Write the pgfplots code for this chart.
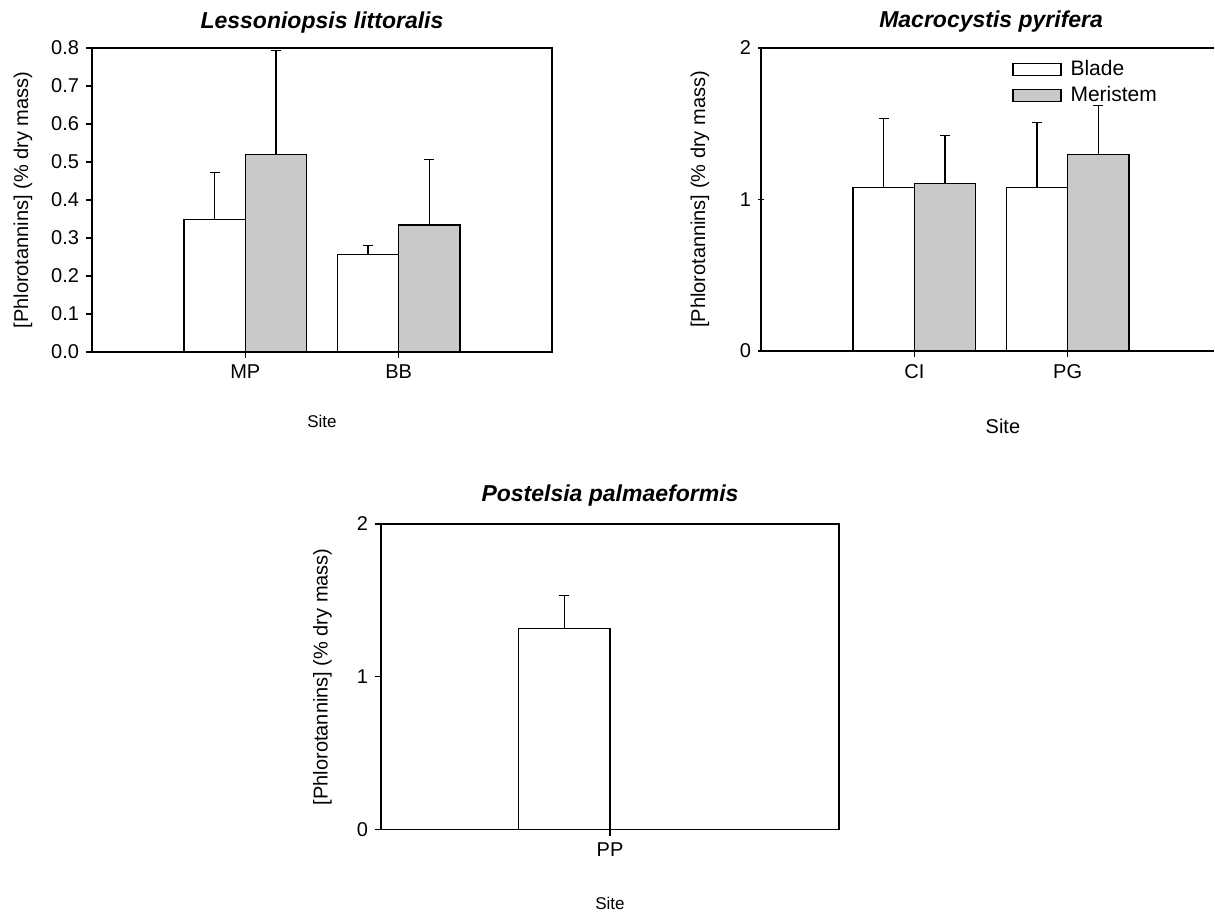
\documentclass[border=0pt]{standalone}
\usepackage{fontspec}
\setmainfont{Liberation Sans}
\usepackage{pgfplots}
\pgfplotsset{compat=1.18}
\definecolor{merfill}{gray}{0.79}
\pgfplotsset{
  panel/.style={
    scale only axis, xmin=0, xmax=3, ymin=0,
    tick align=outside, major tick length=3pt,
    xtick pos=left, ytick pos=left,
    axis line style={line width=0.6pt},
    tick style={line width=0.6pt, black},
    tick label style={font=\fontsize{10}{12}\selectfont},
    /pgf/number format/assume math mode=true,
    xlabel style={font=\fontsize{8.5}{10}\selectfont, anchor=center},
    ylabel style={font=\fontsize{10}{12}\selectfont, anchor=center},
    title style={font=\fontsize{11.5}{13}\selectfont\bfseries\itshape, anchor=base},
    xlabel={Site},
    ylabel={[Phlorotannins] (\% dry mass)},
    minor tick num=0,
  },
  errs/.style={forget plot, draw=none, mark=none,
    error bars/.cd, y dir=plus, y explicit,
    error bar style={draw=black, line width=0.6pt, solid},
    error mark=-,
    error mark options={rotate=90, draw=black, line width=0.6pt, mark size=2.5pt}},
  bladebar/.style={ybar, draw=black, fill=white, line width=0.6pt, bar width=0.4, bar shift=-0.2},
  merbar/.style={ybar, draw=black, fill=merfill, line width=0.6pt, bar width=0.4, bar shift=0.2},
}
\begin{document}
\begin{tikzpicture}
\path (0,0) rectangle (607.5pt,458pt);
% Panel A
\begin{axis}[panel,
  at={(46pt,282pt)}, anchor=south west, width=230pt, height=152pt,
  ymax=0.8, ytick={0,0.1,0.2,0.3,0.4,0.5,0.6,0.7,0.8},
  yticklabel style={/pgf/number format/.cd, fixed, fixed zerofill, precision=1},
  xtick={1,2}, xticklabels={MP,BB},
  title={Lessoniopsis littoralis},
  title style={at={(axis description cs:0.5,1)}, yshift=3.75pt},
  ylabel style={at={(axis description cs:-0.15,0.5)}},
  xlabel style={at={(axis description cs:0.5,-0.228)}},
  clip=false,
]
\addplot[bladebar] coordinates {(1,0.349) (2,0.257)};
\addplot[merbar] coordinates {(1,0.520) (2,0.334)};
\addplot[errs] coordinates {(0.8,0.349) +- (0,0.124) (1.8,0.257) +- (0,0.023)};
\addplot[errs] coordinates {(1.2,0.520) +- (0,0.274) (2.2,0.334) +- (0,0.172)};
\end{axis}
% Panel B
\begin{axis}[panel,
  at={(380.5pt,282.5pt)}, anchor=south west, width=226.5pt, height=151.5pt,
  xmax=2.955, axis x line=box, axis y line=left, axis line style={-, line width=0.6pt},
  ymax=2, ytick={0,1,2},
  xtick={1,2}, xticklabels={CI,PG},
  title={Macrocystis pyrifera},
  title style={at={(axis description cs:0.508,1)}, yshift=4pt},
  ylabel style={at={(axis description cs:-0.1347,0.5)}},
  xlabel style={at={(axis description cs:0.534,-0.20)}},
  legend style={at={(axis description cs:0.554,0.974)}, anchor=north west,
    draw=none, fill=none, inner sep=0pt, row sep=0pt,
    font=\fontsize{10.5}{12}\selectfont,
    /tikz/every odd column/.append style={column sep=2.5pt}},
  legend cell align=left,
  legend image code/.code={\draw[#1] (0pt,-3pt) rectangle (24pt,3pt);},
  clip=false,
]
\addplot[bladebar] coordinates {(1,1.079) (2,1.079)};
\addlegendentry{Blade}
\addplot[merbar] coordinates {(1,1.103) (2,1.299)};
\addlegendentry{Meristem}
\addplot[errs] coordinates {(0.8,1.079) +- (0,0.455) (1.8,1.079) +- (0,0.431)};
\addplot[errs] coordinates {(1.2,1.103) +- (0,0.319) (2.2,1.299) +- (0,0.321)};
\end{axis}
% Panel C
\begin{axis}[panel,
  at={(190.5pt,43.25pt)}, anchor=south west, width=229pt, height=152.75pt,
  ymax=2, ytick={0,1,2},
  xtick={1.5}, xticklabels={PP},
  title={Postelsia palmaeformis},
  title style={at={(axis description cs:0.5,1)}, yshift=5.25pt},
  ylabel style={at={(axis description cs:-0.1277,0.5)}},
  xlabel style={at={(axis description cs:0.5,-0.243)}},
]
\addplot[ybar, draw=black, fill=white, line width=0.6pt, bar width=0.6, bar shift=-0.3]
  coordinates {(1.5,1.316)};
\addplot[errs] coordinates {(1.2,1.316) +- (0,0.214)};
\end{axis}
\end{tikzpicture}
\end{document}
